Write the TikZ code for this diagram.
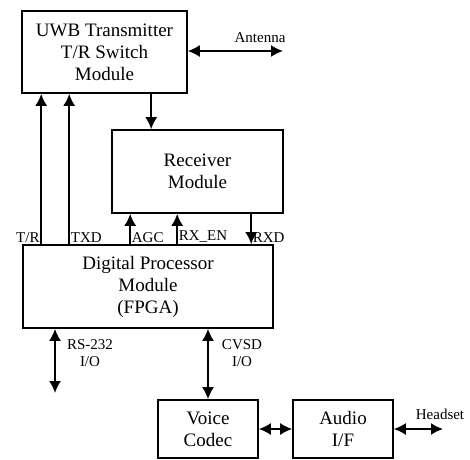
\documentclass[tikz,border=0pt]{standalone}
\usepackage{fontspec}
\setmainfont{Liberation Serif}
\usetikzlibrary{arrows.meta,positioning,calc}

\tikzset{
  blk/.style={draw,line width=1.6pt,align=center,inner sep=0pt,font=\fontsize{19}{22}\selectfont},
  sig/.style={line width=1.8pt,-{Latex[length=12pt,width=12pt]}},
  bisig/.style={line width=1.8pt,{Latex[length=12pt,width=12pt]}-{Latex[length=12pt,width=12pt]}},
  lbl/.style={font=\fontsize{15}{17}\selectfont,inner sep=1.5pt}
}

\begin{document}
\begin{tikzpicture}[x=1pt,y=-1pt]
    \useasboundingbox (0,0) rectangle (470,459);

    % blocks
    \node[blk,minimum width=165pt,minimum height=82pt] (uwb)   at (104.5,52)  {UWB Transmitter\\T/R Switch\\Module};
    \node[blk,minimum width=171pt,minimum height=83pt] (rx)    at (197.5,171.5) {Receiver\\Module};
    \node[blk,minimum width=250pt,minimum height=83pt] (dpm)   at (148,286.5) {Digital Processor\\Module\\(FPGA)};
    \node[blk,minimum width=100pt,minimum height=58pt] (voice) at (208,429)   {Voice\\Codec};
    \node[blk,minimum width=100pt,minimum height=58pt] (audio) at (343,429)   {Audio\\I/F};

    \coordinate (ant) at (283,51);
    \coordinate (rs)  at (55,393);
    \coordinate (hs)  at (443,429);

    % antenna
    \draw[bisig] (uwb.east |- ant) -- (ant);
    \node[lbl] (antlbl) at (260,38) {Antenna};

    % transmitter to receiver
    \draw[sig] ([xshift=130pt]uwb.south west) -- ([xshift=40pt]rx.north west);

    % processor to transmitter
    \draw[sig] ([xshift=19pt]dpm.north west) -- ([xshift=20pt]uwb.south west);
    \draw[sig] ([xshift=47pt]dpm.north west) -- ([xshift=48pt]uwb.south west);
    \node[lbl,anchor=south east] (trlbl)  at ([xshift=19pt]dpm.north west) {T/R};
    \node[lbl,anchor=south west] (txdlbl) at ([xshift=47pt]dpm.north west) {TXD};

    % processor and receiver
    \draw[sig] ([xshift=108pt]dpm.north west) -- ([xshift=19pt]rx.south west);
    \draw[sig] ([xshift=155pt]dpm.north west) -- ([xshift=66pt]rx.south west);
    \draw[sig] ([xshift=140pt]rx.south west) -- ([xshift=229pt]dpm.north west);
    \node[lbl,anchor=south west] (agclbl)  at ([xshift=108pt]dpm.north west) {AGC};
    \node[lbl,anchor=south west] (rxenlbl) at ([xshift=155pt]dpm.north west) {RX\_EN};
    \node[lbl,anchor=south west] (rxdlbl)  at ([xshift=229pt]dpm.north west) {RXD};

    % i/o below the processor
    \draw[bisig] (dpm.south -| rs) -- (rs);
    \node[lbl,align=center] (rslbl) at (90,353) {RS-232\\I/O};
    \draw[bisig] (dpm.south -| voice.north) -- (voice.north);
    \node[lbl,align=center] (cvsdlbl) at (242,353) {CVSD\\I/O};

    % audio chain
    \draw[bisig] (voice.east) -- (audio.west);
    \draw[bisig] (audio.east) -- (hs);
    \node[lbl] (hslbl) at (440,414) {Headset};
  \end{tikzpicture}
\end{document}
